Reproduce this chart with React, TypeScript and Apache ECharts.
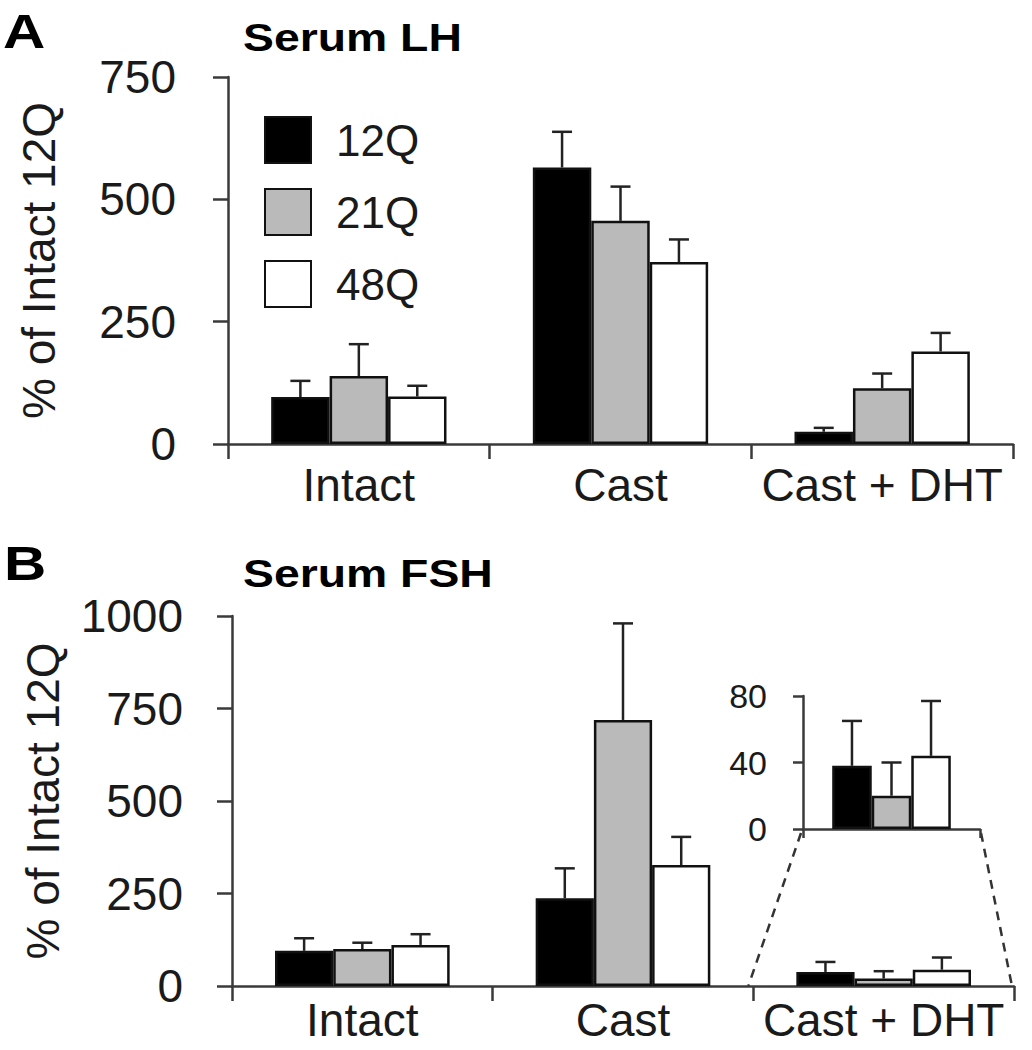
import React, { useEffect, useRef } from 'react';
import * as echarts from 'echarts';

// ---- data ----
const categories = ['Intact', 'Cast', 'Cast + DHT'];
const groups = ['12Q', '21Q', '48Q'];

const lhMean12Q = [96, 565, 25];
const lhErr12Q = [33, 73, 8];
const lhMean21Q = [139, 456, 114];
const lhErr21Q = [65, 70, 30];
const lhMean48Q = [97, 372, 189];
const lhErr48Q = [22, 46, 38];

const fshMean12Q = [95, 237, 38];
const fshErr12Q = [34, 81, 27];
const fshMean21Q = [100, 719, 20];
const fshErr21Q = [17, 261, 20];
const fshMean48Q = [111, 327, 44];
const fshErr48Q = [29, 76, 33];

const insetCategory = ['Cast + DHT'];
const insetIndex = 2; // the inset magnifies the "Cast + DHT" group of serum FSH

const lhAxis = { min: 0, max: 750, interval: 250 };
const fshAxis = { min: 0, max: 1000, interval: 250 };
const insetAxis = { min: 0, max: 80, interval: 40 };

const yName = '% of Intact 12Q';
const titleLH = 'Serum LH';
const titleFSH = 'Serum FSH';

// ---- styles ----
const FONT = '"Liberation Sans", Arial, sans-serif';
const TXT = '#1a1a1a';
const AX = '#3a3a3a';
const fills = ['#000000', '#bababa', '#ffffff'];
const GAP = 0.33;
const BAR_FRAC = (1 - GAP) / 3;

const gridA = { left: 228, top: 77, width: 785, height: 367 };
const gridB = { left: 232, top: 616, width: 782, height: 370 };
const gridI = { left: 803, top: 696, width: 177, height: 133 };

function barSeries(name: string, data: number[], idx: number, axis: number) {
  return {
    type: 'bar',
    name,
    xAxisIndex: axis,
    yAxisIndex: axis,
    data,
    barGap: '0%',
    barCategoryGap: GAP * 100 + '%',
    itemStyle: { color: fills[idx], borderColor: '#111', borderWidth: 2.5 },
    z: 2,
  };
}

function errSeries(means: number[], errs: number[], idx: number, axis: number) {
  const k = (idx - 1) * BAR_FRAC;
  return {
    type: 'custom',
    xAxisIndex: axis,
    yAxisIndex: axis,
    z: 3,
    silent: true,
    data: means.map((m, i) => [i, m, errs[i]]),
    renderItem: (params: any, api: any) => {
      const ci = api.value(0);
      const v = api.value(1);
      const e = api.value(2);
      const band = api.size([1, 0])[0];
      const x = api.coord([ci, 0])[0] + k * band;
      const yb = api.coord([ci, v])[1];
      const yt = api.coord([ci, v + e])[1];
      const st = { stroke: '#222', lineWidth: 2.5 };
      return {
        type: 'group',
        children: [
          { type: 'line', shape: { x1: x, y1: yb, x2: x, y2: yt }, style: st },
          { type: 'line', shape: { x1: x - 10, y1: yt, x2: x + 10, y2: yt }, style: st },
        ],
      };
    },
  };
}

function yAxisDef(grid: number, rng: any, withName: boolean, fontSize: number, margin: number, tickLen: number) {
  return {
    type: 'value',
    gridIndex: grid,
    min: rng.min,
    max: rng.max,
    interval: rng.interval,
    name: withName ? yName : '',
    nameLocation: 'middle',
    nameGap: 166,
    nameTextStyle: { fontSize: 46, fontFamily: FONT, color: TXT },
    axisLine: { show: true, lineStyle: { color: AX, width: 2.5 } },
    axisTick: { show: true, inside: false, length: tickLen, lineStyle: { color: AX, width: 2.5 } },
    axisLabel: { fontSize, fontFamily: FONT, color: TXT, margin, formatter: (v: number) => String(v) },
    splitLine: { show: false },
  };
}

function xAxisDef(grid: number, cats: string[], showLabels: boolean, tickLen: number, margin: number) {
  return {
    type: 'category',
    gridIndex: grid,
    data: cats,
    axisLine: { show: true, lineStyle: { color: AX, width: 2.5 } },
    axisTick: { show: true, inside: false, length: tickLen, lineStyle: { color: AX, width: 2.5 } },
    axisLabel: { show: showLabels, interval: 0, fontSize: 46, fontFamily: FONT, color: TXT, margin },
  };
}

export default function App() {
  const ref = useRef<HTMLDivElement>(null);
  useEffect(() => {
    if (!ref.current) return;
    const chart = echarts.init(ref.current, undefined, { renderer: 'svg' });

    const bandB = gridB.width / categories.length;
    const dhtLeft = gridB.left + bandB * 2;
    const mainBottom = gridB.top + gridB.height;
    const insetBottom = gridI.top + gridI.height;
    const dash = { stroke: '#333', lineWidth: 2.5, lineDash: [9, 7] };

    const option: any = {
      animation: false,
      backgroundColor: '#ffffff',
      grid: [
        { left: gridA.left, top: gridA.top, width: gridA.width, height: gridA.height },
        { left: gridB.left, top: gridB.top, width: gridB.width, height: gridB.height },
        { left: gridI.left, top: gridI.top, width: gridI.width, height: gridI.height },
      ],
      xAxis: [
        xAxisDef(0, categories, true, 15, 18),
        xAxisDef(1, categories, true, 15, 11),
        xAxisDef(2, insetCategory, false, 9, 8),
      ],
      yAxis: [
        yAxisDef(0, lhAxis, true, 46, 52, 15),
        yAxisDef(1, fshAxis, true, 46, 49, 15),
        yAxisDef(2, insetAxis, false, 34, 36, 10),
      ],
      legend: {
        data: groups,
        orient: 'vertical',
        left: 259,
        top: 111,
        itemWidth: 46,
        itemHeight: 46,
        itemGap: 24,
        icon: 'rect',
        selectedMode: false,
        textStyle: { fontSize: 44, fontFamily: FONT, color: TXT, padding: [0, 0, 0, 20] },
      },
      series: [
        barSeries(groups[0], lhMean12Q, 0, 0),
        barSeries(groups[1], lhMean21Q, 1, 0),
        barSeries(groups[2], lhMean48Q, 2, 0),
        barSeries(groups[0], fshMean12Q, 0, 1),
        barSeries(groups[1], fshMean21Q, 1, 1),
        barSeries(groups[2], fshMean48Q, 2, 1),
        barSeries(groups[0], [fshMean12Q[insetIndex]], 0, 2),
        barSeries(groups[1], [fshMean21Q[insetIndex]], 1, 2),
        barSeries(groups[2], [fshMean48Q[insetIndex]], 2, 2),
        errSeries(lhMean12Q, lhErr12Q, 0, 0),
        errSeries(lhMean21Q, lhErr21Q, 1, 0),
        errSeries(lhMean48Q, lhErr48Q, 2, 0),
        errSeries(fshMean12Q, fshErr12Q, 0, 1),
        errSeries(fshMean21Q, fshErr21Q, 1, 1),
        errSeries(fshMean48Q, fshErr48Q, 2, 1),
        errSeries([fshMean12Q[insetIndex]], [fshErr12Q[insetIndex]], 0, 2),
        errSeries([fshMean21Q[insetIndex]], [fshErr21Q[insetIndex]], 1, 2),
        errSeries([fshMean48Q[insetIndex]], [fshErr48Q[insetIndex]], 2, 2),
      ],
      graphic: [
        { type: 'text', x: 3, y: 31, scaleX: 1.22, style: { text: 'A', fontSize: 48, fontWeight: 'bold', fontFamily: FONT, fill: '#000', verticalAlign: 'middle' } },
        { type: 'text', x: 4, y: 563, scaleX: 1.22, style: { text: 'B', fontSize: 48, fontWeight: 'bold', fontFamily: FONT, fill: '#000', verticalAlign: 'middle' } },
        { type: 'text', x: 243, y: 38, scaleX: 1.22, style: { text: titleLH, fontSize: 38, fontWeight: 'bold', fontFamily: FONT, fill: '#000', verticalAlign: 'middle' } },
        { type: 'text', x: 243, y: 574, scaleX: 1.22, style: { text: titleFSH, fontSize: 38, fontWeight: 'bold', fontFamily: FONT, fill: '#000', verticalAlign: 'middle' } },
        { type: 'line', shape: { x1: gridI.left - 2, y1: insetBottom + 4, x2: dhtLeft - 5, y2: mainBottom }, style: dash },
        { type: 'line', shape: { x1: gridI.left + gridI.width + 1, y1: insetBottom + 4, x2: gridB.left + gridB.width - 2, y2: mainBottom }, style: dash },
      ],
    };
    chart.setOption(option);
    return () => chart.dispose();
  }, []);

  return (
    <div
      ref={ref}
      style={{ position: 'absolute', left: 0, top: 0, width: 1032, height: 1050, background: '#fff' }}
    />
  );
}
